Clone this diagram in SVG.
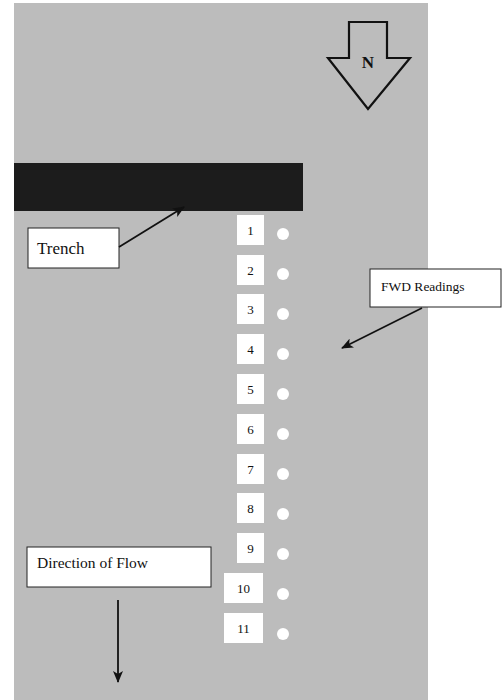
<svg xmlns="http://www.w3.org/2000/svg" width="502" height="700" viewBox="0 0 502 700">
<defs>
<style>
.lbl{fill:#fff;stroke:#222;stroke-width:1}
.num{fill:#fff}
.dot{fill:#fff}
text{font-family:"Liberation Serif","Times New Roman",serif;fill:#111}
.ln{stroke:#111;stroke-width:1.8;fill:none}
</style>
<marker id="ah" markerWidth="12" markerHeight="10" refX="11" refY="5" orient="auto" markerUnits="userSpaceOnUse">
<path d="M0,0 L12,5 L0,10 L3,5 Z" fill="#111"/>
</marker>
</defs>
<rect width="502" height="700" fill="#fff"/>
<rect id="field" x="14" y="3" width="414" height="697" fill="#bcbcbc"/>
<g id="north">
<path d="M349,22 H387 V58 H410 L368,109 L328,58 H349 Z" fill="none" stroke="#111" stroke-width="2.2"/>
<text x="368" y="68" font-size="17" font-weight="bold" text-anchor="middle">N</text>
</g>
<g id="trench-bar"><rect x="14" y="163" width="289" height="48" fill="#1c1c1c"/></g>
<g id="trench-label">
<rect class="lbl" x="28" y="228" width="91" height="40"/>
<text x="37" y="254" font-size="17">Trench</text>
</g>
<g id="fwd-label">
<rect class="lbl" x="370" y="269" width="131" height="38"/>
<text x="381" y="291" font-size="13.5">FWD Readings</text>
</g>
<g id="flow-label">
<rect class="lbl" x="27" y="547" width="184" height="40"/>
<text x="37" y="568" font-size="15.5">Direction of Flow</text>
</g>
<g id="points" font-size="13">
<g id="p1"><rect class="num" x="237" y="215" width="27" height="30"/><text x="250.5" y="235" text-anchor="middle">1</text><circle class="dot" cx="283" cy="234" r="6"/></g>
<g id="p2"><rect class="num" x="237" y="255" width="27" height="30"/><text x="250.5" y="275" text-anchor="middle">2</text><circle class="dot" cx="283" cy="274" r="6"/></g>
<g id="p3"><rect class="num" x="237" y="294" width="27" height="30"/><text x="250.5" y="314" text-anchor="middle">3</text><circle class="dot" cx="283" cy="314" r="6"/></g>
<g id="p4"><rect class="num" x="237" y="334" width="27" height="30"/><text x="250.5" y="354" text-anchor="middle">4</text><circle class="dot" cx="283" cy="354" r="6"/></g>
<g id="p5"><rect class="num" x="237" y="374" width="27" height="30"/><text x="250.5" y="394" text-anchor="middle">5</text><circle class="dot" cx="283" cy="394" r="6"/></g>
<g id="p6"><rect class="num" x="237" y="414" width="27" height="30"/><text x="250.5" y="434" text-anchor="middle">6</text><circle class="dot" cx="283" cy="434" r="6"/></g>
<g id="p7"><rect class="num" x="237" y="454" width="27" height="30"/><text x="250.5" y="474" text-anchor="middle">7</text><circle class="dot" cx="283" cy="474" r="6"/></g>
<g id="p8"><rect class="num" x="237" y="493" width="27" height="30"/><text x="250.5" y="513" text-anchor="middle">8</text><circle class="dot" cx="283" cy="514" r="6"/></g>
<g id="p9"><rect class="num" x="237" y="533" width="27" height="30"/><text x="250.5" y="553" text-anchor="middle">9</text><circle class="dot" cx="283" cy="554" r="6"/></g>
<g id="p10"><rect class="num" x="224" y="573" width="39" height="30"/><text x="243.5" y="593" text-anchor="middle">10</text><circle class="dot" cx="283" cy="594" r="6"/></g>
<g id="p11"><rect class="num" x="224" y="613" width="39" height="30"/><text x="243.5" y="633" text-anchor="middle">11</text><circle class="dot" cx="283" cy="634" r="6"/></g>
</g>
<g id="connectors">
<line class="ln" x1="119" y1="247" x2="184" y2="207" marker-end="url(#ah)"/>
<line class="ln" x1="422" y1="308" x2="342" y2="348" marker-end="url(#ah)"/>
<line class="ln" x1="118" y1="600" x2="118" y2="682" marker-end="url(#ah)"/>
</g>
</svg>
